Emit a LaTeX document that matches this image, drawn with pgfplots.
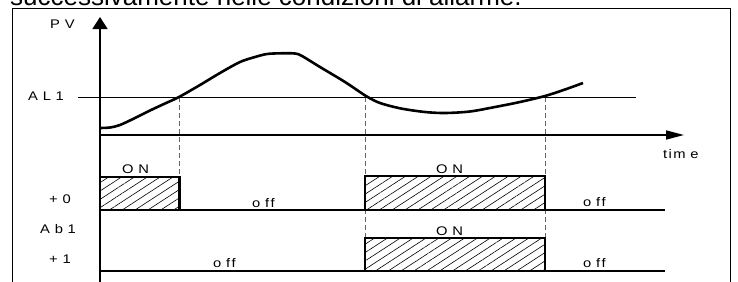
\documentclass[border=0pt]{standalone}
\usepackage{fontspec}
\setmainfont{Liberation Sans}
\usepackage{graphicx}
\usepackage{pgfplots}
\pgfplotsset{compat=1.18}
\usetikzlibrary{arrows.meta,patterns.meta}
\newcommand{\gp}{\hspace{4pt}}
\newcommand{\strx}[1]{\scalebox{1.18}[1]{#1}}
\tikzset{lbl/.style={anchor=base west, inner sep=0pt, font={\fontsize{12.5}{14}\selectfont}}}
\begin{document}
\begin{tikzpicture}
\begin{axis}[
  at={(0,0)}, anchor=south west,
  scale only axis, width=738pt, height=281pt,
  xmin=0, xmax=738, ymin=0, ymax=281, y dir=reverse,
  axis lines=none, clip=false,
]
% frame
\addplot[black, line width=0.9pt] coordinates {(12,300) (12,8) (730,8) (730,300)};
% hatched boxes
\addplot[draw=none, pattern={Lines[angle=33,distance=7pt,line width=0.6pt]}] coordinates {(100,210) (100,177) (180,177) (180,210)} -- cycle;
\addplot[draw=none, pattern={Lines[angle=33,distance=7pt,line width=0.6pt]}] coordinates {(365,210) (365,176) (545,176) (545,210)} -- cycle;
\addplot[draw=none, pattern={Lines[angle=33,distance=7pt,line width=0.6pt]}] coordinates {(365,271) (365,238) (545,238) (545,271)} -- cycle;
% dashed guides
\addplot[gray!80!black, line width=0.9pt, dash pattern=on 5pt off 3pt] coordinates {(179,97) (179,177)};
\addplot[gray!80!black, line width=0.9pt, dash pattern=on 5pt off 3pt] coordinates {(365,97) (365,238)};
\addplot[gray!80!black, line width=0.9pt, dash pattern=on 5pt off 3pt] coordinates {(545,97) (545,238)};
% AL1 threshold
\addplot[black, line width=1pt] coordinates {(78,97) (636,97)};
% box outlines
\addplot[black, line width=2.2pt] coordinates {(100,210) (100,177) (179.5,177) (179.5,210)};
\addplot[black, line width=2.2pt] coordinates {(365,210) (365,176) (545,176) (545,210)};
\addplot[black, line width=2.2pt] coordinates {(365,271) (365,238) (545,238) (545,271)};
% baselines
\addplot[black, line width=1.6pt] coordinates {(100,210) (665,210)};
\addplot[black, line width=1.6pt] coordinates {(100,271) (665,271)};
% axes
\addplot[black, line width=1.6pt, -{Triangle[length=12pt,width=15pt]}] coordinates {(100,285) (100,17)};
\addplot[black, line width=1.6pt, -{Triangle[length=18pt,width=9pt]}] coordinates {(100,135) (684,135)};
% PV curve
\addplot[black, line width=2.6pt, smooth, tension=0.5] coordinates {
 (100,128) (110,127.5) (120,125) (135,118) (150,110.5) (165,103.5) (179,97)
 (200,85) (220,73) (240,62) (255,57) (267,54) (281,53.3) (295,53.5) (302,56)
 (320,67) (345,82) (366,96) (380,103) (401,108.5) (425,112) (445,113)
 (470,111.5) (495,107) (520,102) (545,96) (565,89.5) (583,83)};
% labels
\node[anchor=base west, inner sep=0pt, font={\fontsize{26}{30}\selectfont}] at (axis cs:10,5) {successivamente nelle condizioni di allarme.};
\node[lbl] at (axis cs:50,28) {\strx{P\gp V}};
\node[lbl] at (axis cs:28,100) {\strx{A\gp L\gp 1}};
\node[lbl] at (axis cs:663,158) {\strx{t\hspace{1.2pt}i\hspace{1.2pt}m\gp e}};
\node[lbl] at (axis cs:122,173) {\strx{O\gp N}};
\node[lbl] at (axis cs:436,173) {\strx{O\gp N}};
\node[lbl] at (axis cs:436,235) {\strx{O\gp N}};
\node[lbl] at (axis cs:252,207) {\strx{o\gp f\hspace{1.2pt}f}};
\node[lbl] at (axis cs:583,206) {\strx{o\gp f\hspace{1.2pt}f}};
\node[lbl] at (axis cs:213,267) {\strx{o\gp f\hspace{1.2pt}f}};
\node[lbl] at (axis cs:583,267) {\strx{o\gp f\hspace{1.2pt}f}};
\node[lbl] at (axis cs:49,203) {\strx{+\gp 0}};
\node[lbl] at (axis cs:40,233) {\strx{A\gp b\gp 1}};
\node[lbl] at (axis cs:49,263) {\strx{+\gp 1}};
\end{axis}
\pgfresetboundingbox
\useasboundingbox (0,0) rectangle (738pt,281pt);
\end{tikzpicture}
\end{document}
